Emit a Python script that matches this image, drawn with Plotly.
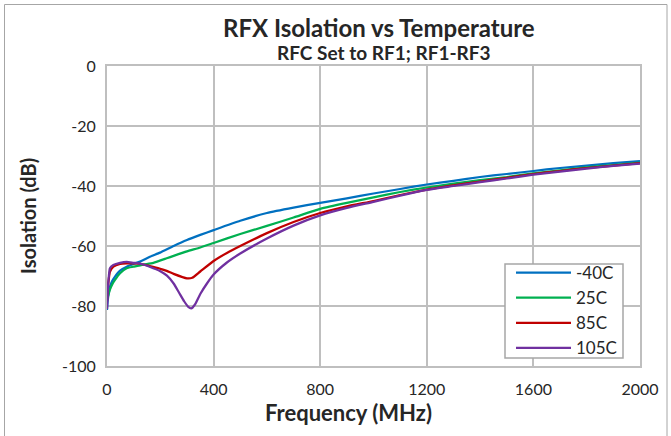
import plotly.graph_objects as go

freq_m40 = [0, 3, 6, 11, 20, 30, 49, 74, 99, 124, 161, 199, 250, 300, 350, 400, 500, 600, 700, 800, 900, 1000, 1100, 1200, 1300, 1400, 1500, 1600, 1700, 1800, 1900, 2000]
iso_m40 = [-81.3, -78, -76, -73.6, -71.6, -70.2, -68.2, -66.9, -66, -65.2, -63.6, -62.2, -60, -58, -56.3, -54.7, -51.6, -49, -47.2, -45.6, -44.1, -42.5, -41, -39.5, -38.3, -37, -36, -35, -34, -33.2, -32.4, -31.7]

freq_25 = [0, 3, 6, 11, 20, 30, 49, 74, 99, 136, 174, 224, 250, 300, 350, 400, 500, 600, 700, 800, 900, 1000, 1100, 1200, 1300, 1400, 1500, 1600, 1700, 1800, 1900, 2000]
iso_25 = [-78, -77, -76, -74.5, -72.7, -71.3, -69.1, -67.4, -66.9, -66.2, -65.6, -64.1, -63.3, -61.8, -60.5, -59, -56, -53.3, -50.5, -47.6, -45.6, -43.8, -42, -40.5, -39.2, -38, -37, -35.8, -34.8, -33.8, -33, -32.2]

freq_85 = [0, 3, 6, 11, 24, 49, 74, 99, 130, 160, 200, 224, 250, 300, 320, 350, 400, 450, 500, 600, 700, 800, 900, 1000, 1100, 1200, 1300, 1400, 1500, 1600, 1700, 1800, 1900, 2000]
iso_85 = [-78.5, -74, -71.5, -68.6, -66.9, -66, -65.8, -65.8, -66, -66.7, -67.6, -68.3, -69.3, -70.8, -70.6, -68.5, -65, -62.3, -60, -55.7, -52, -49, -46.8, -45, -43, -41.2, -39.8, -38.5, -37.3, -36, -35, -34, -33.2, -32.4]

freq_105 = [0, 3, 6, 11, 24, 49, 74, 99, 130, 160, 200, 225, 250, 270, 290, 305, 316, 330, 350, 375, 400, 450, 500, 600, 700, 800, 900, 1000, 1100, 1200, 1300, 1400, 1500, 1600, 1700, 1800, 1900, 2000]
iso_105 = [-81, -75, -71, -67.4, -66.3, -65.6, -65.3, -65.6, -66, -66.9, -68.4, -69.9, -72.5, -75.5, -78.5, -80.3, -80.8, -79.5, -76, -72.5, -69.5, -65.5, -62.5, -57.5, -53.2, -49.8, -47.3, -45.3, -43.2, -41.3, -40, -38.7, -37.5, -36.2, -35.2, -34.2, -33.3, -32.5]

series = [
    ("-40C", freq_m40, iso_m40, "#0070C0"),
    ("25C", freq_25, iso_25, "#00B050"),
    ("85C", freq_85, iso_85, "#C00000"),
    ("105C", freq_105, iso_105, "#7030A0"),
]

x_ticks = [0, 400, 800, 1200, 1600, 2000]
x_labels = ["0", "400", "800", "1200", "1600", "2000"]
y_ticks = [0, -20, -40, -60, -80, -100]
y_labels = ["0", "-20", "-40", "-60", "-80", "-100"]

FONT = "Lato"
TXT = "#262626"
GRID = "#BFBFBF"

fig = go.Figure()
for name, f, v, c in series:
    fig.add_trace(go.Scatter(x=f, y=v, name=name, mode="lines",
                             line=dict(color=c, width=2.25, shape="spline", smoothing=0.5)))

W, H = 671, 436
L, R, T, B = 107, 31, 66, 70
pw, ph = W - L - R, H - T - B

def px(xp):
    return (xp - L) / pw

def py(yp):
    return (H - B - yp) / ph

fig.update_layout(
    width=W, height=H,
    margin=dict(l=L, r=R, t=T, b=B),
    paper_bgcolor="white", plot_bgcolor="white",
    font=dict(family=FONT, size=15, color=TXT),
    showlegend=True,
    legend=dict(x=px(511), y=py(255), xanchor="left", yanchor="top",
                borderwidth=0, bgcolor="rgba(0,0,0,0)",
                font=dict(family=FONT, size=17, color=TXT), itemwidth=55,
                tracegroupgap=0),
    xaxis=dict(range=[0, 2000], tickvals=x_ticks, ticktext=x_labels, showgrid=True, gridcolor=GRID, gridwidth=2,
               showline=True, linecolor=GRID, linewidth=2, mirror=True, zeroline=False,
               ticks="", ticklabelstandoff=8, tickfont=dict(size=16)),
    yaxis=dict(range=[-100, 0], tickvals=y_ticks, ticktext=y_labels, showgrid=True, gridcolor=GRID, gridwidth=2,
               showline=True, linecolor=GRID, linewidth=2, mirror=True, zeroline=False,
               ticks="", ticklabelstandoff=6, tickfont=dict(size=16)),
    annotations=[
        dict(text="<b>RFX Isolation vs Temperature</b>", x=px(379), y=py(28), xref="paper", yref="paper",
             showarrow=False, font=dict(size=24, family=FONT, color=TXT), xanchor="center", yanchor="middle"),
        dict(text="<b>RFC Set to RF1; RF1-RF3</b>", x=px(384), y=py(52), xref="paper", yref="paper",
             showarrow=False, font=dict(size=19, family=FONT, color=TXT), xanchor="center", yanchor="middle"),
        dict(text="<b>Frequency (MHz)</b>", x=px(348), y=py(412), xref="paper", yref="paper",
             showarrow=False, font=dict(size=22, family=FONT, color=TXT), xanchor="center", yanchor="middle"),
        dict(text="<b>Isolation (dB)</b>", x=px(28), y=py(216), xref="paper", yref="paper", textangle=-90,
             showarrow=False, font=dict(size=20, family=FONT, color=TXT), xanchor="center", yanchor="middle"),
    ],
    shapes=[
        dict(type="rect", xref="paper", yref="paper", x0=px(4.5), x1=px(667), y0=py(445), y1=py(4.5),
             line=dict(color="#A6A6A6", width=1), fillcolor="rgba(0,0,0,0)", layer="below"),
        dict(type="rect", xref="paper", yref="paper", x0=px(505), x1=px(623), y0=py(358), y1=py(264),
             line=dict(color="#A6A6A6", width=1.5), fillcolor="white", layer="above"),
    ],
)

fig.write_html("out.html")
